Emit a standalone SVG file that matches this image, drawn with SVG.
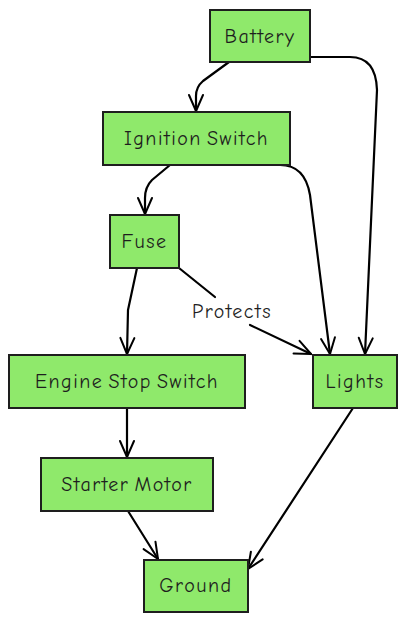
<svg xmlns="http://www.w3.org/2000/svg" width="407" height="623" viewBox="0 0 407 623">
<defs>
<style>
.node rect{fill:#8fe96b;stroke:#1e1e1e;stroke-width:2}
.node text,.lbl{font-family:"Comic Neue","Liberation Sans",sans-serif;font-size:20px;letter-spacing:1.5px;word-spacing:-3px;fill:#1e1e1e;text-anchor:middle;dominant-baseline:central}
.edge{fill:none;stroke:#000;stroke-width:2.2;stroke-linecap:round;stroke-linejoin:round}
</style>
<marker id="arr" viewBox="0 0 20 20" refX="18" refY="10" markerWidth="20" markerHeight="20" markerUnits="userSpaceOnUse" orient="auto">
<path d="M2,3 L18,10 L2,17" fill="none" stroke="#000" stroke-width="2" stroke-linecap="round" stroke-linejoin="round"/>
</marker>
</defs>
<rect width="407" height="623" fill="#fff"/>
<g id="connectors">
<path class="edge" d="M229,62 L203,81 Q196,87 196,96 L196,111" marker-end="url(#arr)"/>
<path class="edge" d="M310,57 L350,57 Q376,57 377,90 L365,354" marker-end="url(#arr)"/>
<path class="edge" d="M170,165 L152,180 Q145,187 145,198 L145,214" marker-end="url(#arr)"/>
<path class="edge" d="M280,165 Q305,165 310,195 L330,354" marker-end="url(#arr)"/>
<path class="edge" d="M137,268 L128,310 L127,354" marker-end="url(#arr)"/>
<path class="edge" d="M179,268 L215,297"/>
<path class="edge" d="M250,325 L311,354" marker-end="url(#arr)"/>
<path class="edge" d="M127,408 L127,457" marker-end="url(#arr)"/>
<path class="edge" d="M128,511 L158,559" marker-end="url(#arr)"/>
<path class="edge" d="M353,408 L248,569" marker-end="url(#arr)"/>
<text class="lbl" x="232" y="311">Protects</text>
</g>
<g id="battery" class="node"><rect x="210" y="10" width="100" height="52"/><text x="260" y="36">Battery</text></g>
<g id="ignition-switch" class="node"><rect x="103" y="112" width="187" height="53"/><text x="196.5" y="138">Ignition Switch</text></g>
<g id="fuse" class="node"><rect x="110" y="215" width="69" height="53"/><text x="144.5" y="241">Fuse</text></g>
<g id="engine-stop-switch" class="node"><rect x="9" y="355" width="236" height="53"/><text x="127" y="381">Engine Stop Switch</text></g>
<g id="lights" class="node"><rect x="313" y="355" width="84" height="53"/><text x="355" y="381">Lights</text></g>
<g id="starter-motor" class="node"><rect x="41" y="458" width="172" height="53"/><text x="127" y="484">Starter Motor</text></g>
<g id="ground" class="node"><rect x="144" y="560" width="104" height="52"/><text x="196" y="585">Ground</text></g>
</svg>
